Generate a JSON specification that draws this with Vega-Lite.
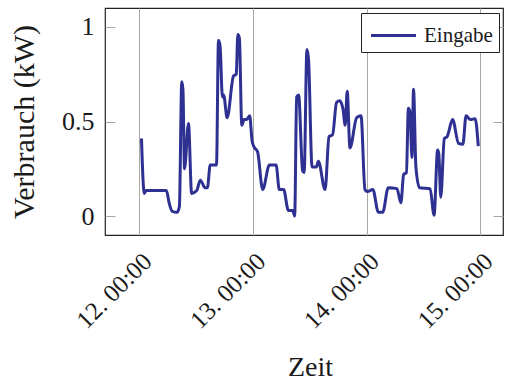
{
  "$schema": "https://vega.github.io/schema/vega-lite/v6.json",
  "autosize": "none",
  "width": 398,
  "height": 227,
  "padding": {"left": 105, "top": 8, "right": 2, "bottom": 145},
  "background": "white",
  "config": {
    "font": "Liberation Serif, DejaVu Serif, serif",
    "view": {"stroke": "#222222", "strokeWidth": 1.2}
  },
  "data": {
    "values": [
      {"t": "2020-01-12T00:30", "v": 0.41},
      {"t": "2020-01-12T01:05", "v": 0.12},
      {"t": "2020-01-12T01:30", "v": 0.135},
      {"t": "2020-01-12T03:30", "v": 0.135},
      {"t": "2020-01-12T05:45", "v": 0.135},
      {"t": "2020-01-12T06:20", "v": 0.07},
      {"t": "2020-01-12T07:00", "v": 0.025},
      {"t": "2020-01-12T08:00", "v": 0.02},
      {"t": "2020-01-12T08:30", "v": 0.05},
      {"t": "2020-01-12T09:00", "v": 0.71},
      {"t": "2020-01-12T09:15", "v": 0.67},
      {"t": "2020-01-12T09:35", "v": 0.25},
      {"t": "2020-01-12T10:25", "v": 0.49},
      {"t": "2020-01-12T11:05", "v": 0.12},
      {"t": "2020-01-12T12:10", "v": 0.135},
      {"t": "2020-01-12T12:55", "v": 0.19},
      {"t": "2020-01-12T13:55", "v": 0.15},
      {"t": "2020-01-12T14:25", "v": 0.15},
      {"t": "2020-01-12T15:00", "v": 0.27},
      {"t": "2020-01-12T16:20", "v": 0.27},
      {"t": "2020-01-12T16:45", "v": 0.93},
      {"t": "2020-01-12T17:05", "v": 0.9},
      {"t": "2020-01-12T17:35", "v": 0.63},
      {"t": "2020-01-12T17:50", "v": 0.64},
      {"t": "2020-01-12T18:35", "v": 0.52},
      {"t": "2020-01-12T19:55", "v": 0.74},
      {"t": "2020-01-12T20:30", "v": 0.75},
      {"t": "2020-01-12T20:50", "v": 0.96},
      {"t": "2020-01-12T21:10", "v": 0.94},
      {"t": "2020-01-12T21:40", "v": 0.48},
      {"t": "2020-01-12T22:10", "v": 0.51},
      {"t": "2020-01-12T22:40", "v": 0.51},
      {"t": "2020-01-12T23:20", "v": 0.53},
      {"t": "2020-01-12T23:50", "v": 0.4},
      {"t": "2020-01-13T00:10", "v": 0.37},
      {"t": "2020-01-13T01:00", "v": 0.34},
      {"t": "2020-01-13T02:05", "v": 0.14},
      {"t": "2020-01-13T03:30", "v": 0.27},
      {"t": "2020-01-13T04:55", "v": 0.27},
      {"t": "2020-01-13T05:35", "v": 0.14},
      {"t": "2020-01-13T06:30", "v": 0.14},
      {"t": "2020-01-13T07:30", "v": 0.03},
      {"t": "2020-01-13T08:25", "v": 0.03},
      {"t": "2020-01-13T08:50", "v": 0.0},
      {"t": "2020-01-13T09:15", "v": 0.63},
      {"t": "2020-01-13T09:40", "v": 0.64},
      {"t": "2020-01-13T10:30", "v": 0.24},
      {"t": "2020-01-13T10:50", "v": 0.23},
      {"t": "2020-01-13T11:25", "v": 0.88},
      {"t": "2020-01-13T11:45", "v": 0.83},
      {"t": "2020-01-13T12:30", "v": 0.26},
      {"t": "2020-01-13T13:25", "v": 0.26},
      {"t": "2020-01-13T13:50", "v": 0.29},
      {"t": "2020-01-13T15:15", "v": 0.14},
      {"t": "2020-01-13T16:05", "v": 0.42},
      {"t": "2020-01-13T16:50", "v": 0.43},
      {"t": "2020-01-13T17:40", "v": 0.6},
      {"t": "2020-01-13T18:20", "v": 0.61},
      {"t": "2020-01-13T19:00", "v": 0.57},
      {"t": "2020-01-13T19:30", "v": 0.48},
      {"t": "2020-01-13T19:55", "v": 0.66},
      {"t": "2020-01-13T20:30", "v": 0.36},
      {"t": "2020-01-13T21:55", "v": 0.52},
      {"t": "2020-01-13T22:50", "v": 0.53},
      {"t": "2020-01-13T23:40", "v": 0.14},
      {"t": "2020-01-14T00:10", "v": 0.13},
      {"t": "2020-01-14T01:20", "v": 0.14},
      {"t": "2020-01-14T02:30", "v": 0.02},
      {"t": "2020-01-14T03:25", "v": 0.02},
      {"t": "2020-01-14T04:35", "v": 0.15},
      {"t": "2020-01-14T06:25", "v": 0.145},
      {"t": "2020-01-14T07:15", "v": 0.07},
      {"t": "2020-01-14T07:50", "v": 0.22},
      {"t": "2020-01-14T08:25", "v": 0.23},
      {"t": "2020-01-14T08:50", "v": 0.57},
      {"t": "2020-01-14T09:10", "v": 0.55},
      {"t": "2020-01-14T09:35", "v": 0.31},
      {"t": "2020-01-14T09:55", "v": 0.67},
      {"t": "2020-01-14T10:25", "v": 0.26},
      {"t": "2020-01-14T11:10", "v": 0.15},
      {"t": "2020-01-14T13:25", "v": 0.145},
      {"t": "2020-01-14T14:15", "v": 0.005},
      {"t": "2020-01-14T15:00", "v": 0.35},
      {"t": "2020-01-14T15:15", "v": 0.33},
      {"t": "2020-01-14T15:40", "v": 0.1},
      {"t": "2020-01-14T16:25", "v": 0.41},
      {"t": "2020-01-14T17:00", "v": 0.42},
      {"t": "2020-01-14T18:10", "v": 0.51},
      {"t": "2020-01-14T19:25", "v": 0.385},
      {"t": "2020-01-14T20:20", "v": 0.38},
      {"t": "2020-01-14T21:00", "v": 0.53},
      {"t": "2020-01-14T21:55", "v": 0.51},
      {"t": "2020-01-14T22:55", "v": 0.515},
      {"t": "2020-01-14T23:35", "v": 0.37}
    ]
  },
  "layer": [
    {
      "mark": {"type": "line", "interpolate": "monotone", "strokeWidth": 3, "strokeJoin": "round"},
      "encoding": {
        "x": {
          "field": "t", "type": "temporal",
          "scale": {"domain": ["2020-01-11T16:48", "2020-01-15T04:48"]},
          "axis": {
            "title": "Zeit",
            "titleFont": "Liberation Serif, DejaVu Serif, serif", "titleFontSize": 28, "titleFontWeight": "normal", "titleColor": "#1a1a1a",
            "titleX": 205, "titleY": 140, "titleBaseline": "alphabetic",
            "tickCount": {"interval": "day", "step": 1},
            "format": "%d. %H:%M",
            "labelAngle": -45, "labelAlign": "right", "labelBaseline": "middle",
            "labelFont": "Liberation Serif, DejaVu Serif, serif", "labelFontSize": 25, "labelColor": "#1a1a1a",
            "labelPadding": 22, "labelOffset": 8,
            "grid": true, "gridColor": "#a8a8a8", "gridWidth": 1,
            "ticks": false, "domain": false
          }
        },
        "y": {
          "field": "v", "type": "quantitative",
          "scale": {"domain": [-0.1, 1.1], "nice": false, "zero": false},
          "axis": {
            "title": "Verbrauch (kW)",
            "titleFont": "Liberation Serif, DejaVu Serif, serif", "titleFontSize": 30, "titleFontWeight": "normal", "titleColor": "#1a1a1a",
            "titleX": -72, "titleBaseline": "alphabetic",
            "values": [0, 0.5, 1], "format": "~g",
            "labelFont": "Liberation Serif, DejaVu Serif, serif", "labelFontSize": 26, "labelColor": "#1a1a1a",
            "labelPadding": 21,
            "grid": false, "domain": false,
            "ticks": true, "tickSize": -10, "tickColor": "#a8a8a8", "tickWidth": 1
          }
        },
        "color": {
          "datum": "Eingabe", "type": "nominal",
          "scale": {"range": ["#2e3192"]},
          "legend": {
            "title": null, "orient": "none", "legendX": 256, "legendY": 5,
            "fillColor": "white", "strokeColor": "#222222", "cornerRadius": 0,
            "padding": 6,
            "symbolType": "M-1.5,0H1.5", "symbolStrokeWidth": 3, "symbolSize": 900, "symbolOffset": 10,
            "labelFont": "Liberation Serif, DejaVu Serif, serif", "labelFontSize": 21, "labelColor": "#1a1a1a", "labelOffset": 14
          }
        }
      }
    },
    {
      "mark": {"type": "line", "opacity": 0},
      "encoding": {
        "x": {"field": "t", "type": "temporal"},
        "y": {
          "field": "v", "type": "quantitative",
          "axis": {
            "orient": "right", "title": null, "labels": false, "domain": false, "grid": false,
            "values": [0, 0.5, 1], "ticks": true, "tickSize": -10, "tickColor": "#a8a8a8", "tickWidth": 1
          }
        }
      }
    }
  ],
  "resolve": {"axis": {"y": "independent"}}
}
